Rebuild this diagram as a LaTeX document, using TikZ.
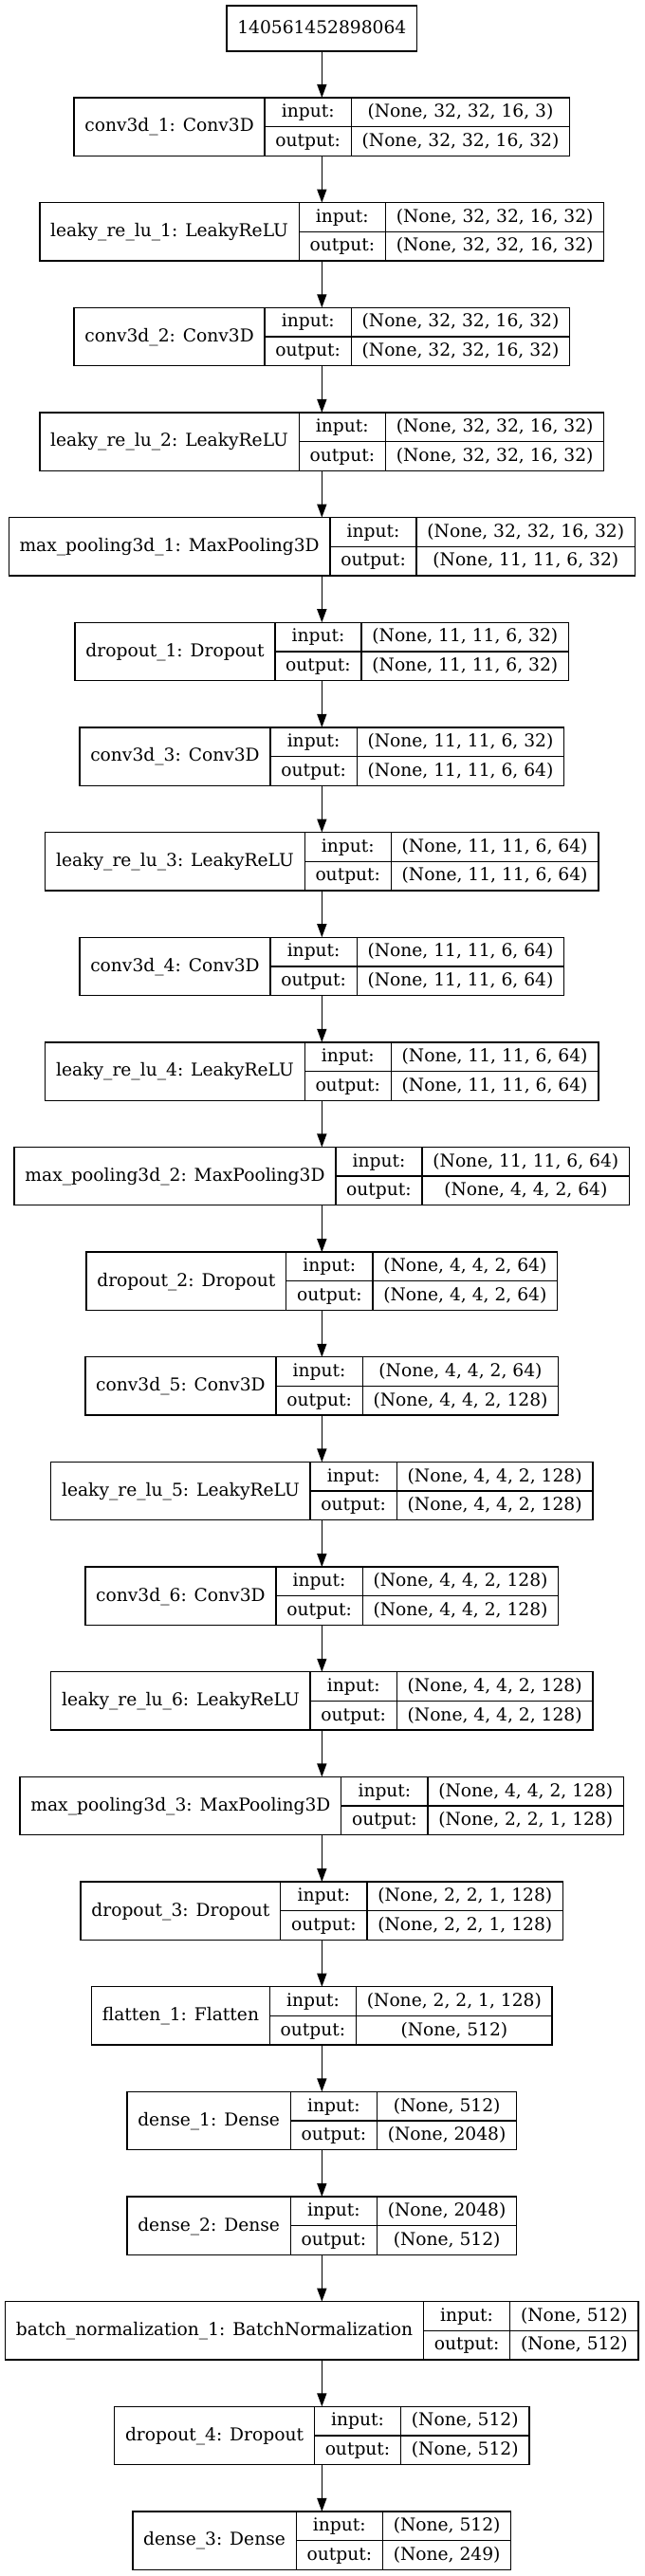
\documentclass[tikz,border=0pt]{standalone}
\usepackage{fontspec}
\setmainfont{DejaVu Serif}
\usetikzlibrary{arrows.meta}
\newdimen\wlen
\font\LMeas="DejaVu Serif" at 14pt
\newcommand\rf{\fontsize{14pt}{16pt}\selectfont}
\makeatletter
\let\LStrip\strip@pt
\makeatother
\tikzset{
  recfield/.style={draw=black, line width=1pt, inner sep=0pt, outer sep=0pt,
    text height=11pt, text depth=3pt, font=\rf, align=center},
  recframe/.style={draw=none, inner sep=0pt, outer sep=0pt, minimum height=46pt},
  arr/.style={-{Triangle[length=10.5pt,width=7.5pt]}, line width=1pt, draw=black},
}
\def\LXc{254.5}
\def\LPad{17}
% id, k, name, input shape, output shape
\newcommand\layer[5]{%
  \setbox0=\hbox{\LMeas #3}\wlen=\wd0 \edef\LWa{\LStrip\wlen}%
  \setbox0=\hbox{\LMeas output:}\wlen=\wd0 \edef\LWb{\LStrip\wlen}%
  \setbox0=\hbox{\LMeas #4}\wlen=\wd0 \edef\LWcin{\LStrip\wlen}%
  \setbox0=\hbox{\LMeas #5}\wlen=\wd0 \edef\LWcout{\LStrip\wlen}%
  \pgfmathsetmacro\LWa{\LWa+\LPad}%
  \pgfmathsetmacro\LWb{\LWb+\LPad}%
  \pgfmathsetmacro\LWc{max(\LWcin,\LWcout)+\LPad}%
  \pgfmathsetmacro\LWt{\LWa+\LWb+\LWc}%
  \pgfmathsetmacro\LYc{-(103+(#2-1)*110.65+30.65)*0.75}%
  \pgfmathsetmacro\LYt{\LYc+11.5}%
  \pgfmathsetmacro\LYb{\LYc-11.5}%
  \pgfmathsetmacro\LXa{\LXc-\LWt/2+\LWa/2}%
  \pgfmathsetmacro\LXb{\LXc-\LWt/2+\LWa+\LWb/2}%
  \pgfmathsetmacro\LXv{\LXc+\LWt/2-\LWc/2}%
  \node[recframe, minimum width=\LWt pt] (#1) at (\LXc pt,\LYc pt) {};
  \node[recfield, minimum width=\LWa pt, minimum height=46pt] (#1n) at (\LXa pt,\LYc pt) {#3};
  \node[recfield, minimum width=\LWb pt, minimum height=23pt] (#1il) at (\LXb pt,\LYt pt) {input:};
  \node[recfield, minimum width=\LWb pt, minimum height=23pt] (#1ol) at (\LXb pt,\LYb pt) {output:};
  \node[recfield, minimum width=\LWc pt, minimum height=23pt] (#1iv) at (\LXv pt,\LYt pt) {#4};
  \node[recfield, minimum width=\LWc pt, minimum height=23pt] (#1ov) at (\LXv pt,\LYb pt) {#5};
}
\begin{document}
\begin{tikzpicture}
\fill[white] (0,0) rectangle (509.25pt,-2037pt);
\useasboundingbox (0,0) rectangle (509.25pt,-2037pt);
\node[recfield, inner xsep=8.5pt, minimum height=36pt] (L0) at (\LXc pt,-22.5pt) {140561452898064};
\layer{L1}{1}{conv3d\_1: Conv3D}{(None, 32, 32, 16, 3)}{(None, 32, 32, 16, 32)}
\layer{L2}{2}{leaky\_re\_lu\_1: LeakyReLU}{(None, 32, 32, 16, 32)}{(None, 32, 32, 16, 32)}
\layer{L3}{3}{conv3d\_2: Conv3D}{(None, 32, 32, 16, 32)}{(None, 32, 32, 16, 32)}
\layer{L4}{4}{leaky\_re\_lu\_2: LeakyReLU}{(None, 32, 32, 16, 32)}{(None, 32, 32, 16, 32)}
\layer{L5}{5}{max\_pooling3d\_1: MaxPooling3D}{(None, 32, 32, 16, 32)}{(None, 11, 11, 6, 32)}
\layer{L6}{6}{dropout\_1: Dropout}{(None, 11, 11, 6, 32)}{(None, 11, 11, 6, 32)}
\layer{L7}{7}{conv3d\_3: Conv3D}{(None, 11, 11, 6, 32)}{(None, 11, 11, 6, 64)}
\layer{L8}{8}{leaky\_re\_lu\_3: LeakyReLU}{(None, 11, 11, 6, 64)}{(None, 11, 11, 6, 64)}
\layer{L9}{9}{conv3d\_4: Conv3D}{(None, 11, 11, 6, 64)}{(None, 11, 11, 6, 64)}
\layer{L10}{10}{leaky\_re\_lu\_4: LeakyReLU}{(None, 11, 11, 6, 64)}{(None, 11, 11, 6, 64)}
\layer{L11}{11}{max\_pooling3d\_2: MaxPooling3D}{(None, 11, 11, 6, 64)}{(None, 4, 4, 2, 64)}
\layer{L12}{12}{dropout\_2: Dropout}{(None, 4, 4, 2, 64)}{(None, 4, 4, 2, 64)}
\layer{L13}{13}{conv3d\_5: Conv3D}{(None, 4, 4, 2, 64)}{(None, 4, 4, 2, 128)}
\layer{L14}{14}{leaky\_re\_lu\_5: LeakyReLU}{(None, 4, 4, 2, 128)}{(None, 4, 4, 2, 128)}
\layer{L15}{15}{conv3d\_6: Conv3D}{(None, 4, 4, 2, 128)}{(None, 4, 4, 2, 128)}
\layer{L16}{16}{leaky\_re\_lu\_6: LeakyReLU}{(None, 4, 4, 2, 128)}{(None, 4, 4, 2, 128)}
\layer{L17}{17}{max\_pooling3d\_3: MaxPooling3D}{(None, 4, 4, 2, 128)}{(None, 2, 2, 1, 128)}
\layer{L18}{18}{dropout\_3: Dropout}{(None, 2, 2, 1, 128)}{(None, 2, 2, 1, 128)}
\layer{L19}{19}{flatten\_1: Flatten}{(None, 2, 2, 1, 128)}{(None, 512)}
\layer{L20}{20}{dense\_1: Dense}{(None, 512)}{(None, 2048)}
\layer{L21}{21}{dense\_2: Dense}{(None, 2048)}{(None, 512)}
\layer{L22}{22}{batch\_normalization\_1: BatchNormalization}{(None, 512)}{(None, 512)}
\layer{L23}{23}{dropout\_4: Dropout}{(None, 512)}{(None, 512)}
\layer{L24}{24}{dense\_3: Dense}{(None, 512)}{(None, 249)}
\foreach \i [evaluate=\i as \p using int(\i-1)] in {1,...,24}
  \draw[arr] (L\p.south) -- (L\i.north);
\end{tikzpicture}
\end{document}
